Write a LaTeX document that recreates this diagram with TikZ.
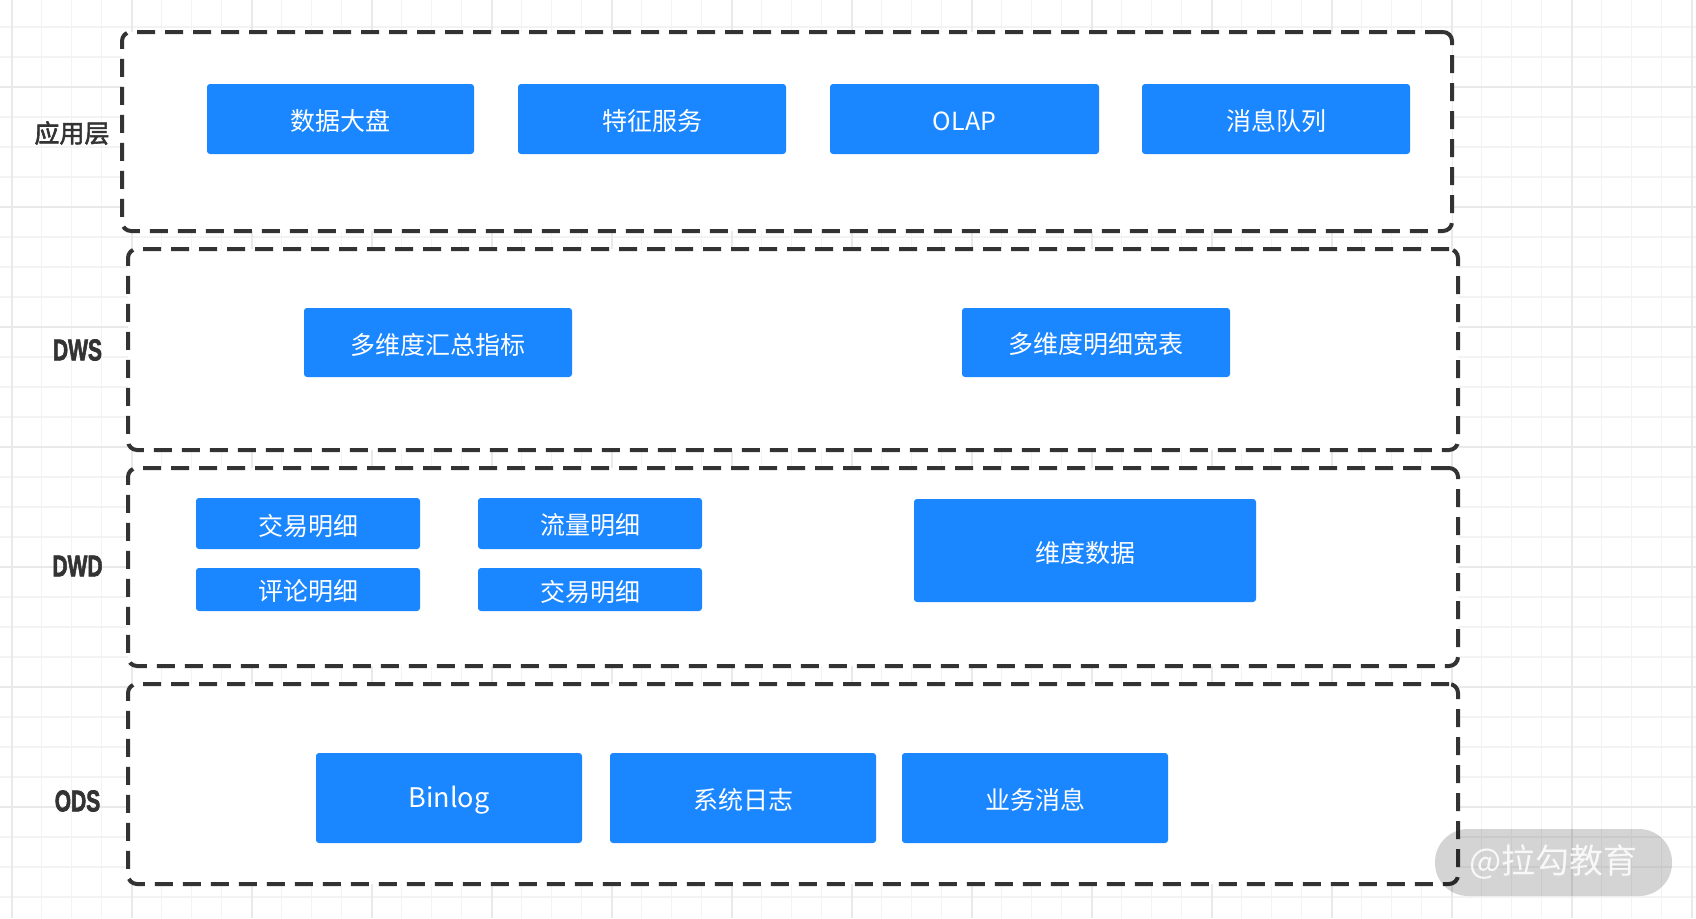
\documentclass[tikz,border=0pt]{standalone}
\usepackage{fontspec}
\setmainfont{Noto Sans CJK SC}
\newfontfamily\cjk{Noto Sans CJK SC}
\newfontfamily\cjkm[FakeBold=2.2]{Noto Sans CJK SC}
\newfontfamily\labfont[FakeBold=2.5]{Liberation Sans Bold}
\definecolor{blu}{HTML}{1A86FF}
\definecolor{dk}{HTML}{333333}
\definecolor{gmin}{HTML}{F3F3F3}
\definecolor{gmaj}{HTML}{E9E9E9}
\tikzset{
  layerbox/.style={draw=dk, line width=4pt, dash pattern=on 18pt off 10pt, rounded corners=9pt, fill=white, inner sep=0},
  bluebox/.style={fill=blu, rounded corners=3pt, inner sep=0},
  boxtext/.style={text=white, font=\cjk\fontsize{25}{25}\selectfont, inner sep=0},
  cjklabel/.style={text=dk, font=\cjkm\fontsize{25}{25}\selectfont, inner sep=0},
  latlabel/.style={text=dk, font=\labfont\fontsize{30}{30}\selectfont, inner sep=0},
  minorline/.style={draw=gmin, line width=1.5pt},
  majorline/.style={draw=gmaj, line width=2pt}
}
\newcommand{\mybox}[6]{%
  \node[bluebox, minimum width={(#4-#2)*1pt}, minimum height={(#5-#3)*1pt}] (#1) at ({(#2+#4)/2},{(#3+#5)/2}) {};
  \node[boxtext] (#1-t) at ([yshift=-2pt]#1.center) {#6};}
\newcommand{\mylayer}[5]{%
  \node[layerbox, minimum width={(#4-#2)*1pt}, minimum height={(#5-#3)*1pt}] (#1) at ({(#2+#4)/2},{(#3+#5)/2}) {};}
\begin{document}
\begin{tikzpicture}[x=1pt,y=-1pt]
\useasboundingbox (0,0) rectangle (1696,918);
\fill[white] (0,0) rectangle (1696,918);
% grid
\foreach \i in {0,...,56} {\draw[minorline] (11.5+30*\i,0) -- (11.5+30*\i,918);}
\foreach \i in {-1,...,30} {\draw[minorline] (0,27+30*\i) -- (1696,27+30*\i);}
\foreach \i in {0,...,14} {\draw[majorline] (11.5+120*\i,0) -- (11.5+120*\i,918);}
\foreach \i in {0,...,7} {\draw[majorline] (0,87+120*\i) -- (1696,87+120*\i);}
% layers
\mylayer{L1}{122}{32}{1452}{231}
\mylayer{L2}{128}{249}{1458}{450}
\mylayer{L3}{128}{468}{1458}{666}
\mylayer{L4}{128}{684}{1458}{884}
% labels
\node[cjklabel] (t1) at (72,133) {应用层};
\node[latlabel, xscale=0.7] (t2) at (77.5,350) {DWS};
\node[latlabel, xscale=0.7] (t3) at (77.5,566) {DWD};
\node[latlabel, xscale=0.7] (t4) at (77.5,801) {ODS};
% app layer
\mybox{a1}{207}{84}{474}{154}{数据大盘}
\mybox{a2}{518}{84}{786}{154}{特征服务}
\mybox{a3}{830}{84}{1099}{154}{OLAP}
\mybox{a4}{1142}{84}{1410}{154}{消息队列}
% DWS
\mybox{s1}{304}{308}{572}{377}{多维度汇总指标}
\mybox{s2}{962}{308}{1230}{377}{多维度明细宽表}
% DWD
\mybox{d1}{196}{498}{420}{549}{交易明细}
\mybox{d2}{478}{498}{702}{549}{流量明细}
\mybox{d3}{196}{568}{420}{611}{评论明细}
\mybox{d4}{478}{568}{702}{611}{交易明细}
\mybox{d5}{914}{499}{1256}{602}{维度数据}
% ODS
\mybox{o1}{316}{753}{582}{843}{\fontsize{27}{27}\selectfont Binlog}
\mybox{o2}{610}{753}{876}{843}{系统日志}
\mybox{o3}{902}{753}{1168}{843}{业务消息}
% watermark
\node[fill=black, fill opacity=0.17, text opacity=0.85, text=white, rounded corners=33pt, minimum width=237pt, minimum height=67pt, inner sep=0, font=\cjk\fontsize{34}{34}\selectfont] (wm) at (1553.5,862.5) {@拉勾教育};
\end{tikzpicture}
\end{document}
